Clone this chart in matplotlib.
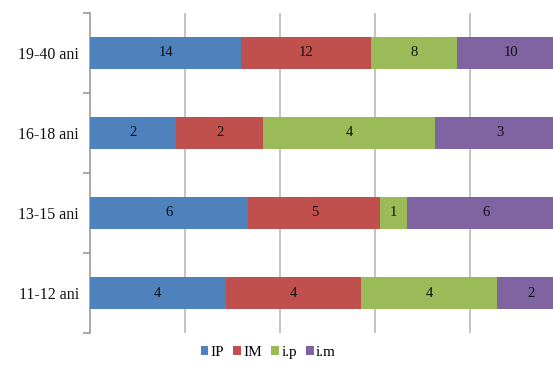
import matplotlib.pyplot as plt
import numpy as np

plt.rcParams["font.family"] = ["Liberation Serif", "DejaVu Serif"]

groups = ["11-12 ani", "13-15 ani", "16-18 ani", "19-40 ani"]
series = ["IP", "IM", "i.p", "i.m"]
ip = [4, 6, 2, 14]
im = [4, 5, 2, 12]
ip_small = [4, 1, 4, 8]
im_small = [2, 6, 3, 10]
colors = ["#4F81BD", "#C0504D", "#9BBB59", "#8064A2"]

values = np.array([ip, im, ip_small, im_small], dtype=float)
shares = values / values.sum(axis=0)

fig = plt.figure(figsize=(5.53, 3.68), dpi=100)
# plot area runs past the right edge, so the last column is cut off
ax = fig.add_axes([0.1627, 0.0951, 0.859, 0.8696])

y = np.arange(len(groups))
left = np.zeros(len(groups))
for vals, share, name, col in zip(values, shares, series, colors):
    ax.barh(y, share, left=left, height=0.4, color=col, label=name, zorder=3)
    for yi, l, s, v in zip(y, left, share, vals):
        ax.text(l + s / 2, yi, f"{int(v)}", ha="center", va="center",
                fontsize=10.5, color="#111111", zorder=4)
    left += share

ax.set_xlim(0, 1)
ax.set_ylim(-0.5, len(groups) - 0.5)
ax.set_xticks([0.2, 0.4, 0.6, 0.8])
ax.set_xticklabels([])
ax.tick_params(axis="x", length=0)
ax.grid(axis="x", color="#BEB8B4", linewidth=1.2, zorder=0)

ax.set_yticks(y)
ax.set_yticklabels(groups, fontsize=11.5, color="#111111")
ax.set_yticks(np.arange(-0.5, len(groups)), minor=True)
ax.tick_params(axis="y", which="major", length=0, pad=8)
ax.tick_params(axis="y", which="minor", length=5, color="#A09A96", width=1.2)

for side in ["top", "right", "bottom"]:
    ax.spines[side].set_visible(False)
ax.spines["left"].set_color("#A09A96")
ax.spines["left"].set_linewidth(1.2)

fig.legend(loc="center", bbox_to_anchor=(0.485, 0.043), ncol=4, frameon=False,
           handlelength=0.5, handleheight=0.5, handletextpad=0.15,
           columnspacing=0.6, prop={"size": 11})

fig.savefig("out.png", dpi=100)
